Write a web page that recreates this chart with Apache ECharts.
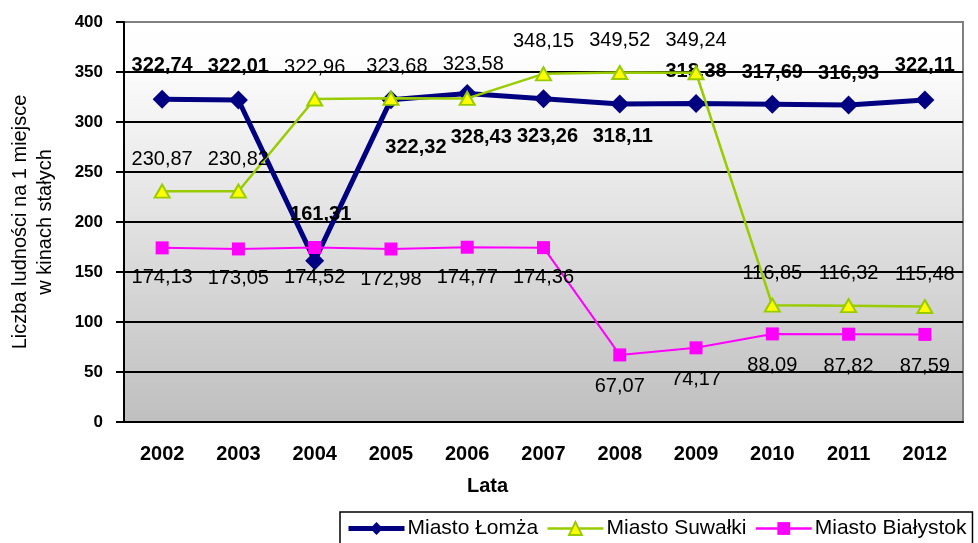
<!DOCTYPE html>
<html>
<head>
<meta charset="utf-8">
<script src="https://cdn.jsdelivr.net/npm/echarts@6/dist/echarts.min.js"></script>
<style>
html, body { margin: 0; padding: 0; background: #fff; }
#main { width: 978px; height: 543px; }
</style>
</head>
<body>
<div id="main"></div>
<script>
// dane
var lata = ['2002','2003','2004','2005','2006','2007','2008','2009','2010','2011','2012'];
var lomza = [322.74, 322.01, 161.31, 322.32, 328.43, 323.26, 318.11, 318.38, 317.69, 316.93, 322.11];
var suwalki = [230.87, 230.82, 322.96, 323.68, 323.58, 348.15, 349.52, 349.24, 116.85, 116.32, 115.48];
var bialystok = [174.13, 173.05, 174.52, 172.98, 174.77, 174.36, 67.07, 74.17, 88.09, 87.82, 87.59];
var yTicks = [0, 50, 100, 150, 200, 250, 300, 350, 400];

// przesuniecia etykiet wzgledem punktow (px)
var lomzaLabelDx = [0, 0, 6, 25, 14, 4, 3, 0, 0, 0, 0];
var lomzaLabelDy = [-34, -34, -46, 48, 44, 38, 33, -32, -32, -32, -34];
var suwalkiLabelDx = [0, 0, 0, 6, 6, 0, 0, 0, 0, 0, 0];
var suwalkiLabelDy = [-32, -32, -32, -32, -34, -32, -32, -32, -32, -32, -32];
var bialystokLabelDx = [0, 0, 0, 0, 0, 0, 0, 0, 0, 0, 0];
var bialystokLabelDy = [30, 30, 30, 30, 30, 30, 32, 32, 32, 32, 32];

function fmt(v) {
    return v.toFixed(2).replace('.', ',');
}

function withLabels(values, dx, dy) {
    return values.map(function (v, i) {
        return { value: v, label: { offset: [dx[i], dy[i]] } };
    });
}

var myChart = echarts.init(document.getElementById('main'));

var gridColors = yTicks.map(function (t, i) {
    return i === yTicks.length - 1 ? '#808080' : '#000000';
});

var option = {
    backgroundColor: '#ffffff',
    textStyle: { fontFamily: 'Liberation Sans, Arial, sans-serif' },
    grid: {
        left: 122,
        right: 15,
        top: 22,
        bottom: 121,
        show: true,
        borderColor: '#808080',
        borderWidth: 2,
        backgroundColor: new echarts.graphic.LinearGradient(0, 0, 0, 1, [
            { offset: 0, color: '#ffffff' },
            { offset: 0.1, color: '#fdfdfd' },
            { offset: 1, color: '#bfbfbf' }
        ])
    },
    legend: {
        left: 340,
        top: 512,
        width: 700,
        padding: [6, 6, 20, 6],
        borderColor: '#000',
        borderWidth: 1.5,
        itemWidth: 56,
        itemHeight: 16,
        itemGap: 8,
        textStyle: { fontSize: 21, color: '#000', padding: [0, 0, 0, -2] },
        data: [
            { name: 'Miasto Łomża', lineStyle: { width: 5 } },
            { name: 'Miasto Suwałki', lineStyle: { width: 2.5 } },
            { name: 'Miasto Białystok', lineStyle: { width: 2.5 } }
        ]
    },
    xAxis: {
        type: 'category',
        data: lata,
        name: 'Lata',
        nameLocation: 'middle',
        nameGap: 54,
        nameTextStyle: { fontSize: 20, fontWeight: 'bold', color: '#000', padding: [0, 112, 0, 0] },
        axisLine: { lineStyle: { color: '#000', width: 2 } },
        axisTick: { length: 7, lineStyle: { color: '#000', width: 2 } },
        axisLabel: { fontSize: 20, fontWeight: 'bold', color: '#000', margin: 22 },
        splitLine: { show: false }
    },
    yAxis: {
        type: 'value',
        min: 0,
        max: 400,
        interval: 50,
        name: 'Liczba ludności na 1 miejsce\nw kinach stałych',
        nameLocation: 'middle',
        nameGap: 66,
        nameRotate: 90,
        nameTextStyle: { fontSize: 20, color: '#000', lineHeight: 25 },
        axisLine: { show: true, lineStyle: { color: '#000', width: 2 } },
        axisTick: { show: true, length: 8, lineStyle: { color: '#000', width: 2 } },
        axisLabel: { fontSize: 17, fontWeight: 'bold', color: '#000', margin: 21 },
        splitLine: { show: true, lineStyle: { color: gridColors, width: 2 } }
    },
    series: [
        {
            name: 'Miasto Łomża',
            type: 'line',
            data: withLabels(lomza, lomzaLabelDx, lomzaLabelDy),
            symbol: 'diamond',
            symbolSize: 19,
            color: '#000080',
            lineStyle: { color: '#000080', width: 5 },
            itemStyle: { color: '#000080' },
            label: {
                show: true,
                position: 'inside',
                fontSize: 20,
                fontWeight: 'bold',
                color: '#000',
                formatter: function (p) { return fmt(p.value); }
            },
            emphasis: { disabled: true },
            z: 2
        },
        {
            name: 'Miasto Suwałki',
            type: 'line',
            data: withLabels(suwalki, suwalkiLabelDx, suwalkiLabelDy),
            symbol: 'triangle',
            symbolSize: [15, 13],
            color: '#99cc00',
            lineStyle: { color: '#99cc00', width: 2.5 },
            itemStyle: { color: '#ffff00', borderColor: '#99cc00', borderWidth: 2 },
            label: {
                show: true,
                position: 'inside',
                fontSize: 20,
                color: '#000',
                formatter: function (p) { return fmt(p.value); }
            },
            emphasis: { disabled: true },
            z: 3
        },
        {
            name: 'Miasto Białystok',
            type: 'line',
            data: withLabels(bialystok, bialystokLabelDx, bialystokLabelDy),
            symbol: 'rect',
            symbolSize: 13,
            color: '#ff00ff',
            lineStyle: { color: '#ff00ff', width: 2 },
            itemStyle: { color: '#ff00ff' },
            label: {
                show: true,
                position: 'inside',
                fontSize: 20,
                color: '#000',
                formatter: function (p) { return fmt(p.value); }
            },
            emphasis: { disabled: true },
            z: 4
        }
    ]
};

myChart.setOption(option);
</script>
</body>
</html>
